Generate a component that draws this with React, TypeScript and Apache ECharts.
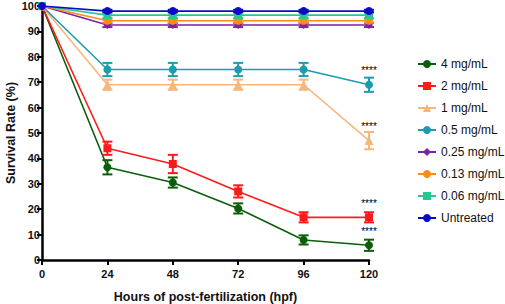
import React, { useEffect, useRef } from 'react';
import * as echarts from 'echarts';

const hours = [0, 24, 48, 72, 96, 120];
const seriesNames = ['4 mg/mL', '2 mg/mL', '1 mg/mL', '0.5 mg/mL', '0.25 mg/mL', '0.13 mg/mL', '0.06 mg/mL', 'Untreated'];
const colors = ['#0b5e0b', '#ff1a1a', '#f5b77e', '#1b9cb0', '#7a22a8', '#ff8a14', '#26c98d', '#0a0ac8'];
const symbols = ['circle', 'rect', 'triangle', 'circle', 'diamond', 'circle', 'rect', 'circle'];
const symbolSizes = [8, 8, 9, 8, 8, 8, 8, 8];

const v4 = [100, 36.5, 30.5, 20.3, 7.9, 5.8];
const v2 = [100, 44, 37.8, 27, 16.8, 16.8];
const v1 = [100, 69, 69, 69, 69, 47];
const v05 = [100, 75, 75, 75, 75, 69];
const v025 = [100, 92.5, 92.5, 92.5, 92.5, 92.5];
const v013 = [100, 94.2, 94.2, 94.2, 94.2, 94.2];
const v006 = [100, 96.4, 96.4, 96.4, 96.4, 96.4];
const vUnt = [100, 98, 98, 98, 98, 98];

const e4 = [0, 2.8, 2, 2, 1.8, 2.2];
const e2 = [0, 2.6, 3.6, 2.4, 2, 2];
const e1 = [0, 2, 2, 2, 2, 3.4];
const e05 = [0, 2.6, 2.6, 2.6, 2.6, 2.8];
const e025 = [0, 0.8, 0.8, 0.8, 0.8, 0.8];
const e013 = [0, 0.8, 0.8, 0.8, 0.8, 0.8];
const e006 = [0, 1.2, 1.2, 1.2, 1.2, 1.2];
const eUnt = [0, 0.5, 0.5, 0.5, 0.5, 0.5];

const values = [v4, v2, v1, v05, v025, v013, v006, vUnt];
const errors = [e4, e2, e1, e05, e025, e013, e006, eUnt];
const starred = [true, true, true, true, false, false, false, false];
const starText = '****';

const FONT = 'Liberation Sans, Arial, sans-serif';

export default function App() {
  const ref = useRef<HTMLDivElement>(null);
  useEffect(() => {
    if (!ref.current) return;
    const chart = echarts.init(ref.current, null, { renderer: 'svg' });
    const series: any[] = [];
    values.forEach((vals, si) => {
      const color = colors[si];
      series.push({
        name: seriesNames[si] + ' err',
        type: 'custom',
        silent: true,
        data: hours.map((h, i) => [h, vals[i] - errors[si][i], vals[i] + errors[si][i]]).filter((d, i) => errors[si][i] > 0),
        renderItem: (params: any, api: any) => {
          const x = api.value(0);
          const lo = api.coord([x, api.value(1)]);
          const hi = api.coord([x, api.value(2)]);
          const hw = 5;
          const st = { stroke: color, lineWidth: 2 };
          return {
            type: 'group',
            children: [
              { type: 'line', shape: { x1: lo[0], y1: lo[1], x2: hi[0], y2: hi[1] }, style: st },
              { type: 'line', shape: { x1: lo[0] - hw, y1: lo[1], x2: lo[0] + hw, y2: lo[1] }, style: st },
              { type: 'line', shape: { x1: hi[0] - hw, y1: hi[1], x2: hi[0] + hw, y2: hi[1] }, style: st },
            ],
          };
        },
        z: 2 + si * 2,
      });
      series.push({
        name: seriesNames[si],
        type: 'line',
        symbol: symbols[si],
        symbolSize: symbolSizes[si],
        showSymbol: true,
        color,
        lineStyle: { width: 1.6, color },
        itemStyle: { color },
        z: 3 + si * 2,
        data: hours.map((h, i) => {
          const item: any = { value: [h, vals[i]] };
          if (starred[si] && i === hours.length - 1) {
            item.label = {
              show: true,
              formatter: starText,
              position: 'top',
              distance: 5,
              color: '#000',
              textBorderWidth: 0,
              fontSize: 10,
              fontFamily: FONT,
            };
          }
          return item;
        }),
      });
    });

    chart.setOption({
      animation: false,
      grid: { left: 42, right: 136, top: 6, bottom: 44, containLabel: false, outerBoundsMode: 'none' },
      legend: {
        data: seriesNames,
        orient: 'vertical',
        left: 412,
        top: 52,
        itemWidth: 18,
        itemHeight: 10,
        itemGap: 8,
        textStyle: { fontSize: 12, lineHeight: 14, color: '#111', fontFamily: FONT },
      },
      xAxis: {
        type: 'value',
        min: 0,
        max: 120,
        interval: 24,
        name: 'Hours of post-fertilization (hpf)',
        nameLocation: 'middle',
        nameGap: 30,
        nameTextStyle: { fontSize: 12.5, fontWeight: 'bold', color: '#111', fontFamily: FONT },
        splitLine: { show: false },
        axisLine: { lineStyle: { color: '#000', width: 2.5 } },
        axisTick: { inside: false, length: 5, lineStyle: { color: '#000', width: 2 } },
        axisLabel: { fontSize: 11, fontWeight: 'bold', color: '#111', margin: 8, fontFamily: FONT },
      },
      yAxis: {
        type: 'value',
        min: 0,
        max: 100,
        interval: 10,
        name: 'Survival Rate (%)',
        nameLocation: 'middle',
        nameGap: 25,
        nameMoveOverlap: false,
        nameTextStyle: { fontSize: 12.5, fontWeight: 'bold', color: '#111', fontFamily: FONT },
        splitLine: { show: false },
        axisLine: { show: true, lineStyle: { color: '#000', width: 2.5 } },
        axisTick: { show: true, inside: false, length: 5, lineStyle: { color: '#000', width: 2 } },
        axisLabel: { fontSize: 11, fontWeight: 'bold', color: '#111', margin: 2, fontFamily: FONT },
      },
      series,
    });
    return () => chart.dispose();
  }, []);
  return <div ref={ref} style={{ width: 505, height: 304, position: 'absolute', left: 0, top: 0, background: '#fff' }} />;
}
